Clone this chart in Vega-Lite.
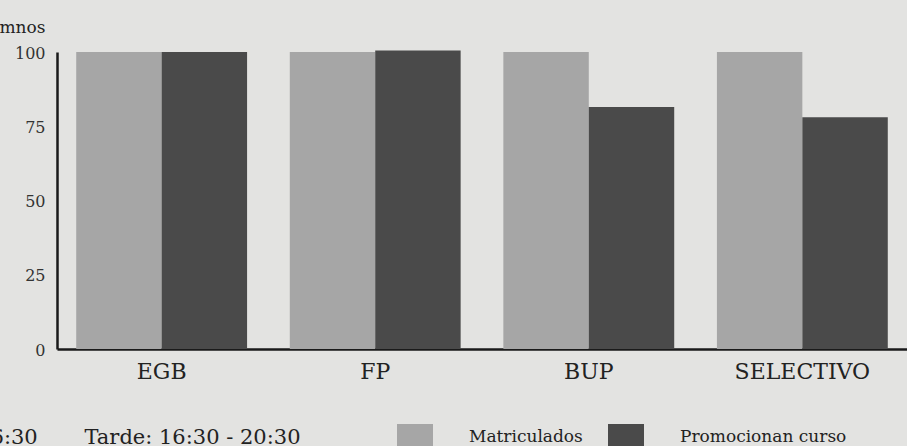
{
  "$schema": "https://vega.github.io/schema/vega-lite/v6.json",
  "autosize": {"type": "none"},
  "width": 850,
  "height": 297,
  "padding": {"left": 57, "top": 52, "right": 0, "bottom": 97},
  "background": "#e3e3e1",
  "config": {
    "view": {"stroke": null},
    "font": "DejaVu Serif"
  },
  "data": {
    "values": [
      {"nivel": "EGB", "serie": "Matriculados", "alumnos": 100},
      {"nivel": "EGB", "serie": "Promocionan curso", "alumnos": 100},
      {"nivel": "FP", "serie": "Matriculados", "alumnos": 100},
      {"nivel": "FP", "serie": "Promocionan curso", "alumnos": 100.5},
      {"nivel": "BUP", "serie": "Matriculados", "alumnos": 100},
      {"nivel": "BUP", "serie": "Promocionan curso", "alumnos": 81.5},
      {"nivel": "SELECTIVO", "serie": "Matriculados", "alumnos": 100},
      {"nivel": "SELECTIVO", "serie": "Promocionan curso", "alumnos": 78}
    ]
  },
  "mark": {"type": "bar"},
  "encoding": {
    "x": {
      "field": "nivel",
      "type": "nominal",
      "sort": ["EGB", "FP", "BUP", "SELECTIVO"],
      "scale": {"paddingInner": 0.2, "paddingOuter": 0.09},
      "axis": {
        "title": "Mañana: 8:30 - 16:30\u00a0\u00a0\u00a0\u00a0\u00a0\u00a0\u00a0Tarde: 16:30 - 20:30",
        "titleFont": "DejaVu Serif",
        "titleFontSize": 21,
        "titleFontWeight": "normal",
        "titleColor": "#222222",
        "titleAlign": "right",
        "titleAnchor": null,
        "titleBaseline": "alphabetic",
        "titleX": 243,
        "titleY": 94,
        "titleLimit": 0,
        "labelAngle": 0,
        "labelFont": "DejaVu Serif",
        "labelFontSize": 22,
        "labelColor": "#222222",
        "labelPadding": 12,
        "ticks": false,
        "domainColor": "#1a1a1a",
        "domainWidth": 2.5
      }
    },
    "xOffset": {
      "field": "serie",
      "type": "nominal",
      "sort": ["Matriculados", "Promocionan curso"],
      "scale": {"paddingInner": 0, "paddingOuter": 0}
    },
    "y": {
      "field": "alumnos",
      "type": "quantitative",
      "scale": {"domain": [0, 100], "nice": false},
      "axis": {
        "values": [0, 25, 50, 75, 100],
        "grid": false,
        "ticks": false,
        "labelFont": "DejaVu Serif",
        "labelFontSize": 16,
        "labelColor": "#333333",
        "labelPadding": 12,
        "labelOffset": 1,
        "domainColor": "#1a1a1a",
        "domainWidth": 2.5,
        "title": "Alumnos",
        "titleFont": "DejaVu Serif",
        "titleFontSize": 17,
        "titleFontWeight": "normal",
        "titleColor": "#222222",
        "titleAngle": 0,
        "titleAlign": "right",
        "titleBaseline": "alphabetic",
        "titleX": -12,
        "titleY": -20
      }
    },
    "color": {
      "field": "serie",
      "type": "nominal",
      "sort": ["Matriculados", "Promocionan curso"],
      "scale": {"domain": ["Matriculados", "Promocionan curso"], "range": ["#a6a6a6", "#4a4a4a"]},
      "legend": {
        "title": null,
        "orient": "none",
        "legendX": 340,
        "legendY": 372,
        "direction": "horizontal",
        "columns": 2,
        "symbolType": "square",
        "symbolSize": 1296,
        "symbolStrokeWidth": 0,
        "labelFont": "DejaVu Serif",
        "labelFontSize": 17,
        "labelColor": "#222222",
        "labelBaseline": "alphabetic",
        "labelLimit": 0,
        "labelOffset": 36,
        "columnPadding": 25,
        "padding": 0
      }
    }
  }
}
